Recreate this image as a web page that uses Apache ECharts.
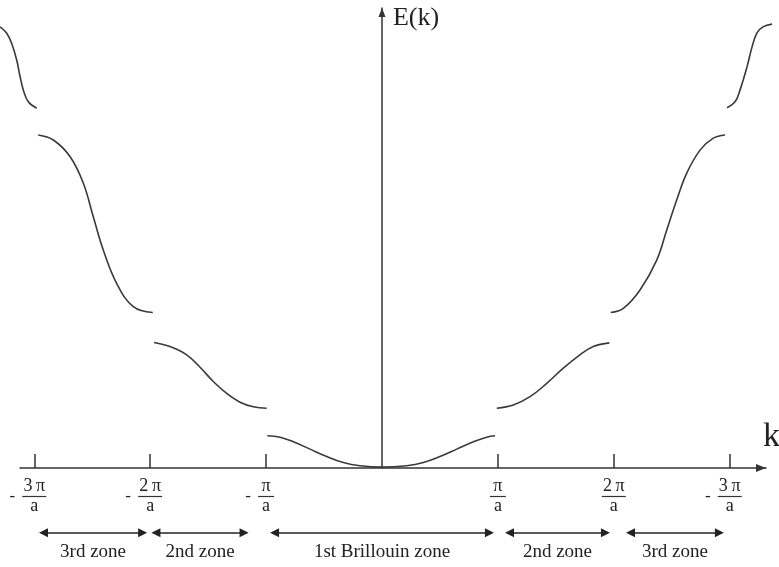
<!DOCTYPE html>
<html>
<head>
<meta charset="utf-8">
<script src="https://cdn.jsdelivr.net/npm/echarts@6/dist/echarts.min.js"></script>
<style>
html,body{margin:0;padding:0;background:#fff;}
#chart{width:779px;height:567px;}
</style>
</head>
<body>
<div id="chart"></div>
<script>
// ---- data (k in units of pi/a, E in arbitrary units) ----
const kTicks   = [-3, -2, -1, 1, 2, 3];
const tickSign = ['-', '-', '-', '', '', '-'];
const tickNum  = ['3\u2009π', '2\u2009π', 'π', 'π', '2\u2009π', '3\u2009π'];
const tickDen  = ['a', 'a', 'a', 'a', 'a', 'a'];

const band1K = [-0.990, -0.880, -0.765, -0.621, -0.477, -0.334, -0.190, 0, 0.213, 0.357, 0.500, 0.645, 0.788, 0.903, 0.975];
const band1E = [7.0, 6.7, 5.7, 4.1, 2.5, 1.2, 0.5, 0.2, 0.5, 1.2, 2.5, 4.1, 5.7, 6.7, 7.0];

const band2LK = [-1.967, -1.829, -1.685, -1.570, -1.456, -1.340, -1.225, -1.110, -0.995];
const band2LE = [27.3, 26.4, 24.6, 21.9, 18.8, 16.2, 14.3, 13.3, 13.0];
const band2RK = [0.990, 1.133, 1.277, 1.421, 1.564, 1.708, 1.823, 1.961];
const band2RE = [13.0, 13.7, 15.5, 18.4, 21.7, 24.6, 26.4, 27.2];

const band3LK = [-2.966, -2.836, -2.692, -2.577, -2.491, -2.405, -2.289, -2.146, -1.978];
const band3LE = [72.4, 71.3, 67.7, 61.9, 54.6, 47.4, 40.1, 35.1, 33.8];
const band3RK = [1.973, 2.082, 2.226, 2.370, 2.456, 2.543, 2.629, 2.744, 2.858, 2.959];
const band3RE = [33.8, 34.7, 38.7, 45.2, 51.7, 58.3, 64.1, 69.1, 71.7, 72.4];

const band4LK = [-3.296, -3.238, -3.195, -3.152, -3.123, -3.095, -3.052, -2.979];
const band4LE = [95.9, 94.5, 92.3, 88.7, 85.1, 82.2, 79.6, 78.2];
const band4RK = [2.977, 3.046, 3.089, 3.149, 3.192, 3.235, 3.287, 3.365];
const band4RE = [78.3, 79.6, 82.2, 87.2, 91.5, 94.6, 95.9, 96.5];

const zoneNames = ['3rd zone', '2nd zone', '1st Brillouin zone', '2nd zone', '3rd zone'];
const zoneStart = [-2.92, -1.95, -0.927, 1.10, 2.144];
const zoneEnd   = [-2.065, -1.19, 0.927, 1.928, 2.911];
const zoneLevel = -14.1;

// ---- chart ----
const FONT = 'Liberation Serif';
const INK = '#333';
const CURVE = '#3a3a3a';

function zip(ks, es) { return ks.map((k, i) => [k, es[i]]); }
const bands = [
  zip(band4LK, band4LE), zip(band3LK, band3LE), zip(band2LK, band2LE),
  zip(band1K, band1E),
  zip(band2RK, band2RE), zip(band3RK, band3RE), zip(band4RK, band4RE)
];

// curves live on a second (hidden) full-width grid with the same k/E scale
const bandSeries = bands.map(d => ({
  type: 'line',
  xAxisIndex: 1,
  yAxisIndex: 1,
  data: d,
  smooth: 0.4,
  showSymbol: false,
  symbol: 'none',
  clip: false,
  silent: true,
  lineStyle: { color: CURVE, width: 1.6 },
  z: 3
}));

const zoneSeries = {
  type: 'lines',
  coordinateSystem: 'cartesian2d',
  xAxisIndex: 0,
  yAxisIndex: 0,
  clip: false,
  silent: true,
  symbol: ['triangle', 'triangle'],
  symbolSize: 9,
  lineStyle: { color: '#222', width: 1.6, opacity: 1 },
  label: {
    show: true,
    position: 'insideMiddleBottom',
    distance: 10,
    formatter: '{b}',
    fontFamily: FONT,
    fontSize: 19,
    color: '#222'
  },
  data: zoneNames.map((n, i) => ({
    name: n,
    coords: [[zoneStart[i], zoneLevel], [zoneEnd[i], zoneLevel]]
  }))
};

const chart = echarts.init(document.getElementById('chart'), null, { renderer: 'canvas' });
chart.setOption({
  backgroundColor: '#fff',
  animation: false,
  grid: [
    { left: 20, right: 13, top: 8, bottom: 99, outerBoundsMode: 'none', containLabel: false },
    { left: 0, right: 0, top: 8, bottom: 99, outerBoundsMode: 'none', containLabel: false }
  ],
  xAxis: [{
    type: 'value',
    gridIndex: 0,
    min: -3.123,
    max: 3.313,
    name: 'k',
    nameLocation: 'end',
    nameGap: -3,
    nameTextStyle: { fontFamily: FONT, fontSize: 34, color: '#222', align: 'left', verticalAlign: 'bottom', padding: [0, 0, 14, 0] },
    splitLine: { show: false },
    axisLine: {
      show: true, onZero: true,
      symbol: ['none', 'triangle'], symbolSize: [8, 10], symbolOffset: [0, -5],
      lineStyle: { color: INK, width: 1.5 }
    },
    axisTick: {
      show: true, inside: true, length: 14, customValues: kTicks,
      lineStyle: { color: INK, width: 1.5 }
    },
    axisLabel: {
      show: true,
      customValues: kTicks,
      margin: 10,
      align: 'center',
      verticalAlign: 'top',
      formatter: function (v) {
        const i = kTicks.indexOf(v);
        if (i < 0) return '';
        const bar = tickNum[i].length > 1 ? '{bw| }' : '{bn| }';
        const mid = tickSign[i] ? '{m|' + tickSign[i] + '}' + bar + '{p| }' : bar;
        return '{num|' + tickNum[i] + '}\n' + mid + '\n{den|' + tickDen[i] + '}';
      },
      rich: {
        num: { fontFamily: FONT, fontSize: 18, lineHeight: 16, align: 'center', color: '#222' },
        m:   { fontFamily: FONT, fontSize: 17, width: 20, lineHeight: 5, align: 'center', color: '#222' },
        bw:  { width: 24, height: 1.2, lineHeight: 5, align: 'center', backgroundColor: '#333' },
        bn:  { width: 16, height: 1.2, lineHeight: 5, align: 'center', backgroundColor: '#333' },
        p:   { width: 20, lineHeight: 5, align: 'center' },
        den: { fontFamily: FONT, fontSize: 18, lineHeight: 15, align: 'center', color: '#222' }
      }
    }
  }, {
    type: 'value',
    gridIndex: 1,
    min: -3.296,
    max: 3.425,
    show: false
  }],
  yAxis: [{
    type: 'value',
    gridIndex: 0,
    min: 0,
    max: 100,
    name: 'E(k)',
    nameLocation: 'end',
    nameGap: -10,
    nameTextStyle: { fontFamily: FONT, fontSize: 26, color: '#222', align: 'left', verticalAlign: 'middle', padding: [0, 0, 0, 11] },
    splitLine: { show: false },
    axisTick: { show: false },
    axisLabel: { show: false },
    axisLine: {
      show: true, onZero: true,
      symbol: ['none', 'triangle'], symbolSize: [7, 9], symbolOffset: [0, -4.5],
      lineStyle: { color: INK, width: 1.5 }
    }
  }, {
    type: 'value',
    gridIndex: 1,
    min: 0,
    max: 100,
    show: false
  }],
  series: bandSeries.concat([zoneSeries])
});
</script>
</body>
</html>
